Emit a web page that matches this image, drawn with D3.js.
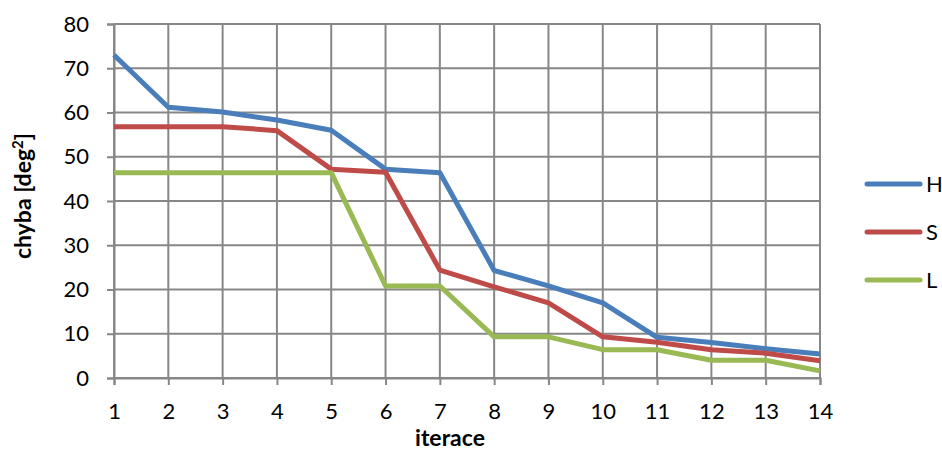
<!DOCTYPE html>
<html><head><meta charset="utf-8">
<script src="https://cdn.jsdelivr.net/npm/d3@7"></script>
<style>body{margin:0;background:#fff}svg{display:block}text{font-family:Lato,"Open Sans",sans-serif;fill:#000}</style>
</head><body><svg id="c" width="942" height="450"></svg>
<script>
const iterations = [1,2,3,4,5,6,7,8,9,10,11,12,13,14];
const seriesNames = ["H","S","L"];
const seriesColors = ["#4a7ebb","#be4b48","#98b954"];
const valuesH = [73.0,61.2,60.1,58.3,56.0,47.2,46.4,24.3,20.8,17.0,9.2,8.0,6.6,5.4];
const valuesS = [56.8,56.8,56.8,55.9,47.2,46.5,24.4,20.6,17.0,9.3,8.1,6.4,5.6,3.9];
const valuesL = [46.4,46.4,46.4,46.4,46.4,20.8,20.8,9.3,9.3,6.4,6.4,4.0,4.0,1.6];
const yTicks = [0,10,20,30,40,50,60,70,80];

const svg = d3.select("#c");
const x = d3.scaleLinear().domain([1,14]).range([114,820]);
const y = d3.scaleLinear().domain([0,80]).range([378,24]);
const grid = "#878787";
const fs = 22;
const tfs = 23;

// gridlines
svg.append("g").selectAll("line").data(iterations).join("line")
  .attr("x1",d=>x(d)).attr("x2",d=>x(d)).attr("y1",y(80)).attr("y2",y(0))
  .attr("stroke",grid).attr("stroke-width",2);
svg.append("g").selectAll("line").data(yTicks).join("line")
  .attr("x1",x(1)).attr("x2",x(14)).attr("y1",d=>y(d)).attr("y2",d=>y(d))
  .attr("stroke",grid).attr("stroke-width",2);

// axes
const yAxis = d3.axisLeft(y).tickValues(yTicks).tickSize(7).tickPadding(18);
const gy = svg.append("g").attr("transform",`translate(${x(1)},0)`).call(yAxis);
const xAxis = d3.axisBottom(x).tickValues(iterations).tickSize(7).tickPadding(18).tickFormat(d3.format("d"));
const gx = svg.append("g").attr("transform",`translate(0,${y(0)})`).call(xAxis);
[gx,gy].forEach(g=>{
  g.select(".domain").attr("stroke",grid).attr("stroke-width",2);
  g.selectAll(".tick line").attr("stroke",grid).attr("stroke-width",2);
  g.selectAll("text").attr("font-size",fs).attr("font-family","Lato,'Open Sans',sans-serif").attr("fill","#000");
});

// lines
const data = [valuesH,valuesS,valuesL];
const line = d3.line().x((d,i)=>x(iterations[i])).y(d=>y(d));
svg.append("g").selectAll("path").data(data).join("path")
  .attr("d",line).attr("fill","none")
  .attr("stroke",(d,i)=>seriesColors[i]).attr("stroke-width",5).attr("stroke-linejoin","round");

// axis titles
svg.append("text").attr("x",450).attr("y",446).attr("text-anchor","middle")
  .attr("font-size",tfs).attr("font-weight","bold").text("iterace");
const yt = svg.append("text").attr("transform","translate(31,196) rotate(-90)")
  .attr("text-anchor","middle").attr("font-size",tfs).attr("font-weight","bold");
yt.append("tspan").text("chyba [deg");
yt.append("tspan").attr("dy",-8).attr("font-size",15).text("2");
yt.append("tspan").attr("dy",8).text("]");

// legend
const leg = svg.append("g").selectAll("g").data(seriesNames).join("g")
  .attr("transform",(d,i)=>`translate(0,${184+i*48})`);
leg.append("line").attr("x1",867).attr("x2",920).attr("y1",0).attr("y2",0)
  .attr("stroke",(d,i)=>seriesColors[i]).attr("stroke-width",5).attr("stroke-linecap","round");
leg.append("text").attr("x",926).attr("y",8).attr("font-size",fs).text(d=>d);
</script></body></html>
